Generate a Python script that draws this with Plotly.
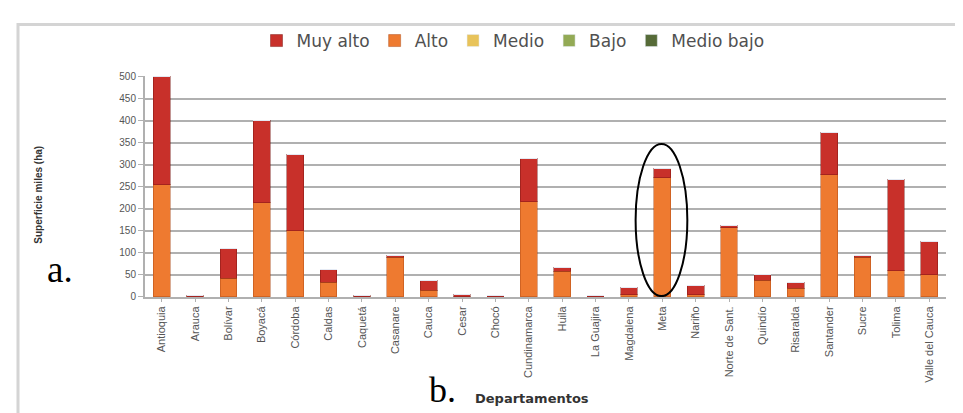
import plotly.graph_objects as go

departamentos = ["Antioquia", "Arauca", "Bolívar", "Boyacá", "Córdoba", "Caldas", "Caquetá",
                 "Casanare", "Cauca", "Cesar", "Chocó", "Cundinamarca", "Huila", "La Guajira",
                 "Magdalena", "Meta", "Nariño", "Norte de Sant.", "Quindío", "Risaralda",
                 "Santander", "Sucre", "Tolima", "Valle del Cauca"]
alto = [255, 1, 42, 214, 150, 33, 1, 90, 15, 1, 1, 216, 58, 1, 5, 270, 5, 157, 38, 20, 277, 90, 59, 51]
muy_alto = [245, 2, 67, 186, 174, 29, 2, 3, 23, 5, 2, 97, 10, 2, 16, 22, 20, 5, 13, 13, 96, 4, 208, 75]
medio = [0] * 24
bajo = [0] * 24
medio_bajo = [0] * 24
y_ticks = [0, 50, 100, 150, 200, 250, 300, 350, 400, 450, 500]

fig = go.Figure()
fig.add_bar(x=departamentos, y=alto, name="Alto", legendrank=2,
            marker=dict(color="#EE7A30", line=dict(color="rgba(170,70,20,0.45)", width=1)))
fig.add_bar(x=departamentos, y=muy_alto, name="Muy alto", legendrank=1,
            marker=dict(color="#C8302A", line=dict(color="rgba(120,20,15,0.45)", width=1)))
fig.add_bar(x=departamentos, y=medio, name="Medio", legendrank=3, marker=dict(color="#E8C35A"))
fig.add_bar(x=departamentos, y=bajo, name="Bajo", legendrank=4, marker=dict(color="#93AA55"))
fig.add_bar(x=departamentos, y=medio_bajo, name="Medio bajo", legendrank=5, marker=dict(color="#566B38"))

W, H = 963, 413
L, R, T, B = 137, 25, 64, 124
pw, ph = W - L - R, H - T - B

def px_x(p):
    return (p - L) / pw

def px_y(p):
    return (H - B - p) / ph

fig.update_layout(
    width=W, height=H,
    margin=dict(l=L, r=R, t=T, b=B),
    barmode="stack", bargap=0.5,
    plot_bgcolor="white", paper_bgcolor="white",
    showlegend=True,
    legend=dict(orientation="h", traceorder="normal", xref="container", yref="container",
                x=505 / W, y=1 - 33 / H, xanchor="center", yanchor="middle",
                font=dict(family="DejaVu Sans", size=17, color="#505050"),
                itemclick=False, bgcolor="rgba(0,0,0,0)"),
    xaxis=dict(range=[-0.5, 23.5], tickangle=-90, showgrid=False,
               tickfont=dict(family="Liberation Sans", size=11, color="#555555"),
               ticks="outside", ticklen=3, tickcolor="#b0b0b0",
               showline=True, linecolor="#b0b0b0", linewidth=2),
    yaxis=dict(range=[0, 502], tickvals=y_ticks, showgrid=True, gridcolor="#b0b0b0", gridwidth=2,
               tickfont=dict(family="Liberation Sans", size=10, color="#555555"),
               ticks="outside", ticklen=5, tickcolor="#b0b0b0",
               showline=True, linecolor="#b0b0b0", linewidth=2, zeroline=False),
    annotations=[
        dict(text="<b>Superficie miles (ha)</b>", xref="paper", yref="paper",
             x=px_x(31), y=px_y(185), textangle=-90, showarrow=False,
             xanchor="center", yanchor="middle",
             font=dict(family="Liberation Sans", size=10, color="#333333")),
        dict(text="<b>Departamentos</b>", xref="paper", yref="paper",
             x=px_x(524), y=px_y(392), showarrow=False, xanchor="center", yanchor="middle",
             font=dict(family="DejaVu Sans", size=13, color="#333333")),
        dict(text="a.", xref="paper", yref="paper", x=px_x(52), y=px_y(261),
             showarrow=False, xanchor="center", yanchor="middle",
             font=dict(family="Liberation Serif", size=37, color="#000000")),
        dict(text="b.", xref="paper", yref="paper", x=px_x(434), y=px_y(384),
             showarrow=False, xanchor="center", yanchor="middle",
             font=dict(family="Liberation Serif", size=36, color="#000000")),
    ],
    shapes=[
        dict(type="rect", xref="paper", yref="paper",
             x0=px_x(10), x1=px_x(959), y0=px_y(430), y1=px_y(12),
             line=dict(color="#d4d4d4", width=3), layer="below"),
        dict(type="circle", xref="x", yref="y", x0=14.2, x1=15.75, y0=2, y1=347,
             line=dict(color="#000000", width=2)),
    ],
)

fig.write_html("out.html")
